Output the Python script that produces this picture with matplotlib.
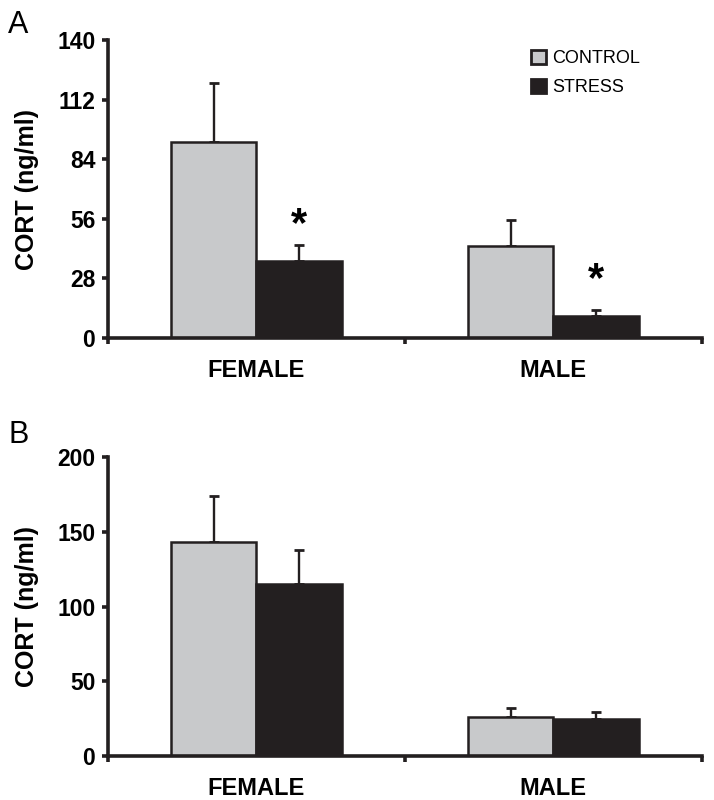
import matplotlib
matplotlib.use('Agg')
import matplotlib.pyplot as plt
from matplotlib.patches import Patch

plt.rcParams['font.family'] = ['Liberation Sans', 'DejaVu Sans']

groups = ['FEMALE', 'MALE']
series = ['CONTROL', 'STRESS']
colors = ['#c8c9cb', '#231f20']

# panel A
a_control = [92, 43]
a_control_err = [28, 12.5]
a_stress = [36, 10.5]
a_stress_err = [7.5, 2.7]
a_yticks = [0, 28, 56, 84, 112, 140]
a_star_y = [53, 27]

# panel B
b_control = [143, 26]
b_control_err = [31, 6]
b_stress = [115, 25]
b_stress_err = [23, 4.5]
b_yticks = [0, 50, 100, 150, 200]

width = 0.288
ink = '#231f20'


def panel(ax, control, control_err, stress, stress_err, yticks, letter, letter_y):
    xs = range(len(groups))
    for vals, errs, off, col in [(control, control_err, -width / 2, colors[0]),
                                 (stress, stress_err, width / 2, colors[1])]:
        pos = [x + off for x in xs]
        ax.bar(pos, vals, width, color=col, edgecolor=ink, linewidth=1.8, zorder=2)
        ax.errorbar(pos, vals, yerr=[[0] * len(vals), errs], fmt='none',
                    ecolor=ink, elinewidth=1.7, capsize=3.5, capthick=2.0, zorder=1)

    ax.set_xlim(-0.5, 1.5)
    ax.set_ylim(0, yticks[-1])
    ax.set_yticks(yticks)
    ax.set_yticklabels([str(t) for t in yticks], fontsize=16.5, fontweight='bold')
    ax.set_xticks([-0.5, 0.5, 1.5])
    ax.set_xticklabels(['', '', ''])
    ax.set_xticks([0, 1], minor=True)
    ax.set_xticklabels(groups, minor=True, fontsize=17, fontweight='bold')
    ax.tick_params(axis='x', which='minor', length=0, pad=15)
    ax.tick_params(axis='both', which='major', direction='out', length=4, width=2.6,
                   color=ink, pad=5)
    for s in ['top', 'right']:
        ax.spines[s].set_visible(False)
    for s in ['left', 'bottom']:
        ax.spines[s].set_linewidth(2.6)
        ax.spines[s].set_color(ink)
    ax.set_ylabel('CORT (ng/ml)', fontsize=18, fontweight='bold', labelpad=13)
    ax.text(-0.168, letter_y, letter, transform=ax.transAxes, fontsize=22,
            ha='left', va='top')


fig = plt.figure(figsize=(7.14, 8), dpi=100)
ax1 = fig.add_axes([0.151, 0.5775, 0.832, 0.3725])
ax2 = fig.add_axes([0.151, 0.055, 0.832, 0.3735])

panel(ax1, a_control, a_control_err, a_stress, a_stress_err, a_yticks, 'A', 1.1)
panel(ax2, b_control, b_control_err, b_stress, b_stress_err, b_yticks, 'B', 1.125)

for i, sy in enumerate(a_star_y):
    ax1.text(i + width / 2, sy, '*', fontsize=30, fontweight='bold',
             ha='center', va='center')

handles = [Patch(facecolor=colors[0], edgecolor=ink, linewidth=2.0),
           Patch(facecolor=colors[1], edgecolor=ink, linewidth=2.0)]
ax1.legend(handles, series, loc='upper left', bbox_to_anchor=(0.712, 0.966),
           frameon=False, fontsize=13, handlelength=0.82, handleheight=0.82,
           handletextpad=0.35, labelspacing=0.62, borderpad=0, borderaxespad=0)

fig.savefig('out.png', dpi=100)
